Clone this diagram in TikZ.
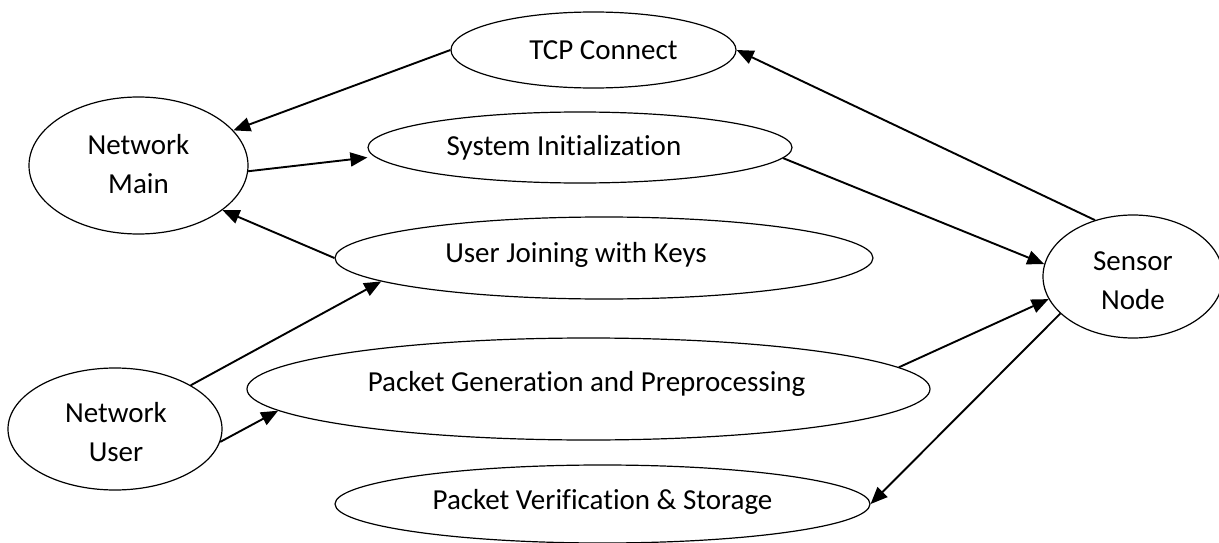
\documentclass[tikz,border=0pt]{standalone}
\usepackage{fontspec}
\setmainfont{Carlito}[Ligatures=NoCommon]
\usetikzlibrary{shapes.geometric,arrows.meta}
\begin{document}
\begin{tikzpicture}[x=1pt,y=-1pt,
  font=\fontsize{29}{39}\selectfont,
  usecase/.style={draw,ellipse,line width=1.2pt,inner sep=0pt},
  arr/.style={line width=1.9pt,-{Triangle[length=17pt,width=14pt]}},
  every label/.style={align=center,inner sep=0pt},
]
% canvas
\path[fill=white,use as bounding box] (0,0) rectangle (1219,543);

% actors
\node[usecase,minimum width=219pt,minimum height=137pt,
      label={[yshift=1pt]center:Network\\Main}] (nm) at (138.5,165.5) {};
\node[usecase,minimum width=214pt,minimum height=122pt,
      label={[xshift=1pt,yshift=-3pt]center:Network\\User}] (nu) at (115,429) {};
\node[usecase,minimum width=180pt,minimum height=123pt,
      label={[yshift=-4pt]center:Sensor\\Node}] (sn) at (1133,276.5) {};

% use cases
\node[usecase,minimum width=285pt,minimum height=76pt,
      label={[xshift=10pt]center:TCP Connect}] (tcp) at (593.5,50) {};
\node[usecase,minimum width=424pt,minimum height=71pt,
      label={[xshift=-16pt]center:System Initialization}] (sys) at (580,147.5) {};
\node[usecase,minimum width=538pt,minimum height=82pt,
      label={[xshift=-28pt,yshift=3pt]center:User Joining with Keys}] (uj) at (604,258) {};
\node[usecase,minimum width=683pt,minimum height=102pt,
      label={[xshift=-2pt,yshift=5pt]center:Packet Generation and Preprocessing}] (pg) at (588.5,389) {};
\node[usecase,minimum width=535pt,minimum height=78pt,
      label={[yshift=2pt]center:Packet Verification \& Storage}] (pv) at (602.5,504) {};

% connectors
\draw[arr] (tcp.west) -- (nm);
\draw[arr] (nm.-3) -- ([yshift=-10pt]sys.west);
\draw[arr] (uj.west) -- (nm.-28);
\draw[arr] (sn.124) -- (tcp.east);
\draw[arr] (sys.-3) -- (sn.172);
\draw[arr] (nu.30) -- (uj.186.5);
\draw[arr] (nu.-7) -- (pg.184);
\draw[arr] (pg.4) -- (sn.195);
\draw[arr] (sn.207) -- (pv.east);
\end{tikzpicture}
\end{document}
